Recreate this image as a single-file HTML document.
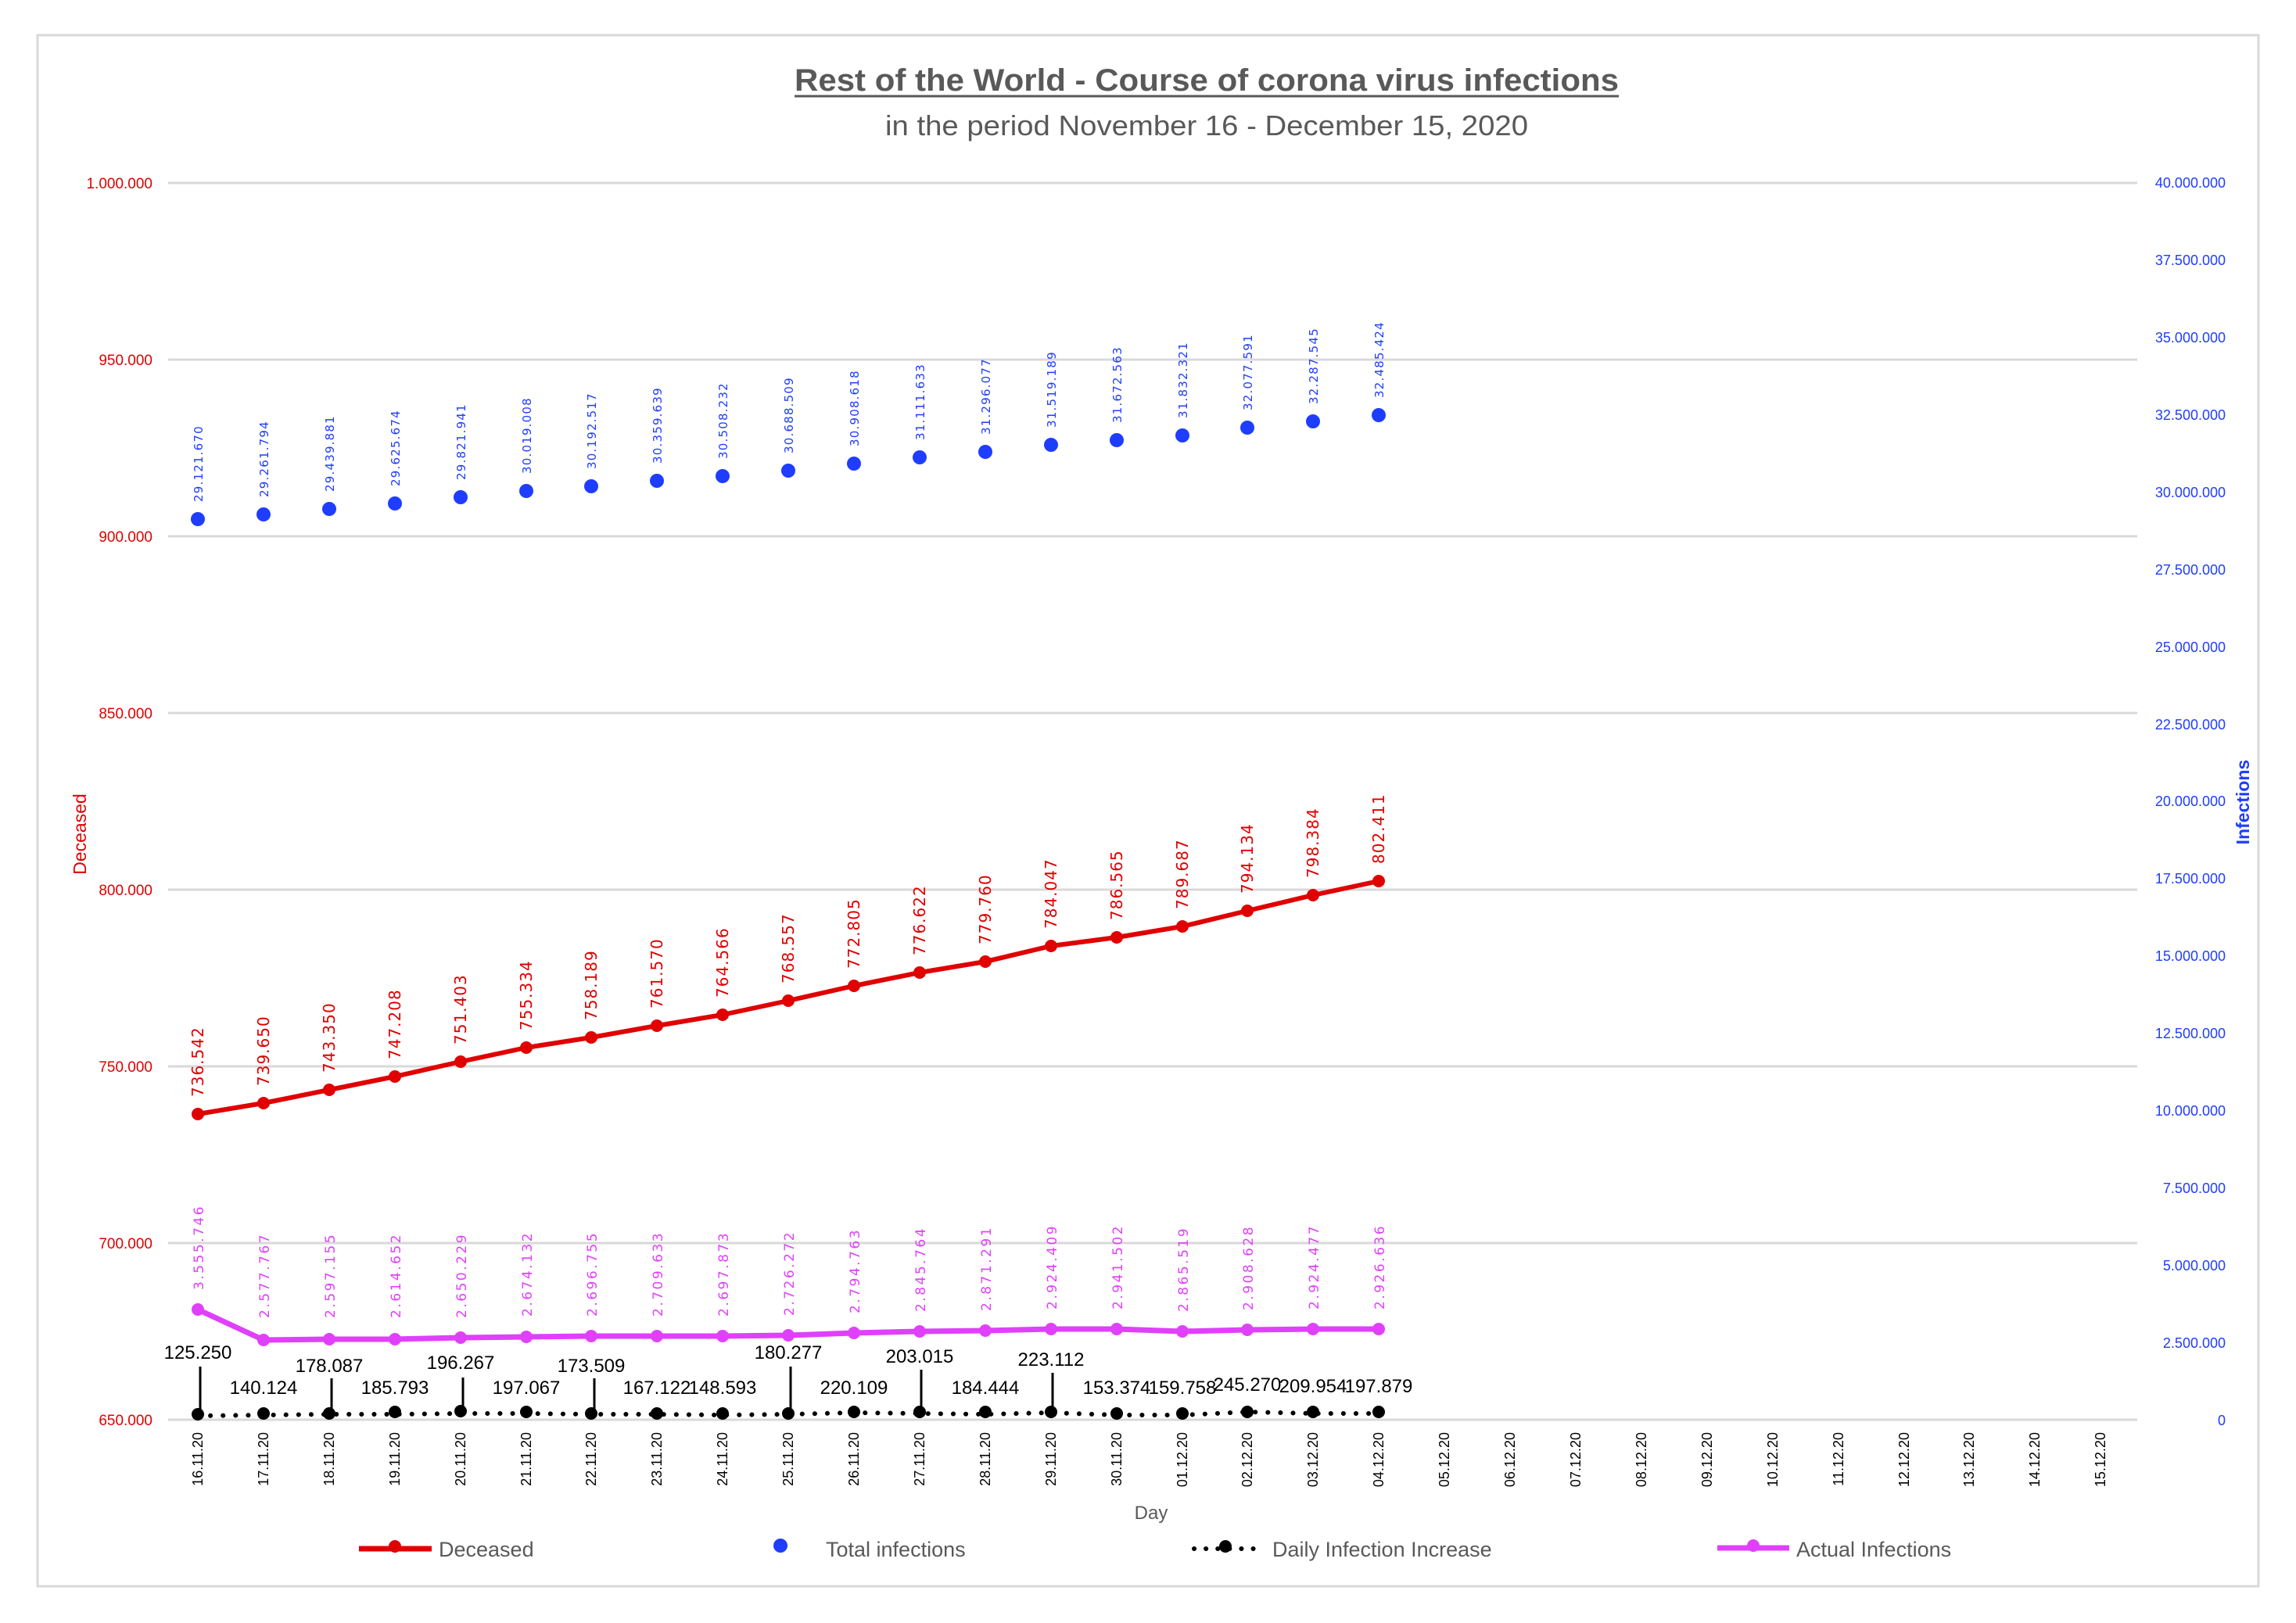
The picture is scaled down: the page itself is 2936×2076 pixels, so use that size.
<!DOCTYPE html>
<html><head><meta charset="utf-8"><style>
html,body{margin:0;padding:0;background:#fff}
svg{display:block}
.la{font-family:"Liberation Sans",sans-serif;font-size:19px;fill:#e00000;text-anchor:end}
.ra{font-family:"Liberation Sans",sans-serif;font-size:18px;fill:#1f3dff;text-anchor:end}
.dl{font-family:"DejaVu Sans",sans-serif;font-size:20px;fill:#e00000;letter-spacing:1px}
.il{font-family:"DejaVu Sans",sans-serif;font-size:15px;fill:#1f3dff;letter-spacing:1.2px}
.al{font-family:"DejaVu Sans",sans-serif;font-size:17px;fill:#e040fb;letter-spacing:2.5px}
.dt{font-family:"Liberation Sans",sans-serif;font-size:18px;fill:#000;text-anchor:end}
.bl{font-family:"Liberation Sans",sans-serif;font-size:24px;fill:#000;text-anchor:middle}
.lg{font-family:"Liberation Sans",sans-serif;font-size:27px;fill:#595959}
</style></head><body>
<svg width="2936" height="2076" viewBox="0 0 2936 2076" xmlns="http://www.w3.org/2000/svg">
<rect x="48" y="45" width="2840" height="1984" fill="#fff" stroke="#d9d9d9" stroke-width="3"/>
<text x="1543" y="116" font-family="Liberation Sans,sans-serif" font-weight="bold" font-size="40" fill="#595959" text-anchor="middle" textLength="1054" lengthAdjust="spacingAndGlyphs">Rest of the World - Course of corona virus infections</text>
<line x1="1016" y1="123" x2="2070" y2="123" stroke="#595959" stroke-width="3"/>
<text x="1543" y="173" font-family="Liberation Sans,sans-serif" font-size="36" fill="#595959" text-anchor="middle" textLength="822" lengthAdjust="spacingAndGlyphs">in the period November 16 - December 15, 2020</text>
<g stroke="#d9d9d9" stroke-width="3">
<line x1="215" y1="234" x2="2733" y2="234"/><line x1="215" y1="460" x2="2733" y2="460"/><line x1="215" y1="686" x2="2733" y2="686"/><line x1="215" y1="912" x2="2733" y2="912"/><line x1="215" y1="1138" x2="2733" y2="1138"/><line x1="215" y1="1364" x2="2733" y2="1364"/><line x1="215" y1="1590" x2="2733" y2="1590"/><line x1="215" y1="1816" x2="2733" y2="1816"/>
</g>
<g class="la">
<text x="195" y="241">1.000.000</text><text x="195" y="467">950.000</text><text x="195" y="693">900.000</text><text x="195" y="919">850.000</text><text x="195" y="1145">800.000</text><text x="195" y="1371">750.000</text><text x="195" y="1597">700.000</text><text x="195" y="1823">650.000</text>
</g>
<g class="ra">
<text x="2846" y="240">40.000.000</text><text x="2846" y="339">37.500.000</text><text x="2846" y="438">35.000.000</text><text x="2846" y="537">32.500.000</text><text x="2846" y="636">30.000.000</text><text x="2846" y="735">27.500.000</text><text x="2846" y="834">25.000.000</text><text x="2846" y="933">22.500.000</text><text x="2846" y="1031">20.000.000</text><text x="2846" y="1130">17.500.000</text><text x="2846" y="1229">15.000.000</text><text x="2846" y="1328">12.500.000</text><text x="2846" y="1427">10.000.000</text><text x="2846" y="1526">7.500.000</text><text x="2846" y="1625">5.000.000</text><text x="2846" y="1724">2.500.000</text><text x="2846" y="1823">0</text>
</g>
<text transform="translate(110,1067) rotate(-90)" font-family="Liberation Sans,sans-serif" font-size="23" fill="#e00000" text-anchor="middle">Deceased</text>
<text transform="translate(2876,1026) rotate(-90)" font-family="Liberation Sans,sans-serif" font-size="23" font-weight="bold" fill="#1f3dff" text-anchor="middle">Infections</text>

<polyline fill="none" stroke="#e00000" stroke-width="6" stroke-linejoin="round" points="253,1425 337,1411 421,1394 505,1377 589,1358 673,1340 756,1327 840,1312 924,1298 1008,1280 1092,1261 1176,1244 1260,1230 1344,1210 1428,1199 1512,1185 1595,1165 1679,1145 1763,1127"/>
<g fill="#e00000">
<circle cx="253" cy="1425" r="8"/><circle cx="337" cy="1411" r="8"/><circle cx="421" cy="1394" r="8"/><circle cx="505" cy="1377" r="8"/><circle cx="589" cy="1358" r="8"/><circle cx="673" cy="1340" r="8"/><circle cx="756" cy="1327" r="8"/><circle cx="840" cy="1312" r="8"/><circle cx="924" cy="1298" r="8"/><circle cx="1008" cy="1280" r="8"/><circle cx="1092" cy="1261" r="8"/><circle cx="1176" cy="1244" r="8"/><circle cx="1260" cy="1230" r="8"/><circle cx="1344" cy="1210" r="8"/><circle cx="1428" cy="1199" r="8"/><circle cx="1512" cy="1185" r="8"/><circle cx="1595" cy="1165" r="8"/><circle cx="1679" cy="1145" r="8"/><circle cx="1763" cy="1127" r="8"/>
</g>
<g class="dl">
<text transform="translate(260,1403) rotate(-90)">736.542</text>
<text transform="translate(344,1389) rotate(-90)">739.650</text>
<text transform="translate(428,1372) rotate(-90)">743.350</text>
<text transform="translate(512,1355) rotate(-90)">747.208</text>
<text transform="translate(596,1336) rotate(-90)">751.403</text>
<text transform="translate(680,1318) rotate(-90)">755.334</text>
<text transform="translate(763,1305) rotate(-90)">758.189</text>
<text transform="translate(847,1290) rotate(-90)">761.570</text>
<text transform="translate(931,1276) rotate(-90)">764.566</text>
<text transform="translate(1015,1258) rotate(-90)">768.557</text>
<text transform="translate(1099,1239) rotate(-90)">772.805</text>
<text transform="translate(1183,1222) rotate(-90)">776.622</text>
<text transform="translate(1267,1208) rotate(-90)">779.760</text>
<text transform="translate(1351,1188) rotate(-90)">784.047</text>
<text transform="translate(1435,1177) rotate(-90)">786.565</text>
<text transform="translate(1519,1163) rotate(-90)">789.687</text>
<text transform="translate(1602,1143) rotate(-90)">794.134</text>
<text transform="translate(1686,1123) rotate(-90)">798.384</text>
<text transform="translate(1770,1105) rotate(-90)">802.411</text>
</g>

<g fill="#1f3dff">
<circle cx="253" cy="664" r="9"/><circle cx="337" cy="658" r="9"/><circle cx="421" cy="651" r="9"/><circle cx="505" cy="644" r="9"/><circle cx="589" cy="636" r="9"/><circle cx="673" cy="628" r="9"/><circle cx="756" cy="622" r="9"/><circle cx="840" cy="615" r="9"/><circle cx="924" cy="609" r="9"/><circle cx="1008" cy="602" r="9"/><circle cx="1092" cy="593" r="9"/><circle cx="1176" cy="585" r="9"/><circle cx="1260" cy="578" r="9"/><circle cx="1344" cy="569" r="9"/><circle cx="1428" cy="563" r="9"/><circle cx="1512" cy="557" r="9"/><circle cx="1595" cy="547" r="9"/><circle cx="1679" cy="539" r="9"/><circle cx="1763" cy="531" r="9"/>
</g>
<g class="il">
<text transform="translate(259,642) rotate(-90)">29.121.670</text>
<text transform="translate(343,636) rotate(-90)">29.261.794</text>
<text transform="translate(427,629) rotate(-90)">29.439.881</text>
<text transform="translate(511,622) rotate(-90)">29.625.674</text>
<text transform="translate(595,614) rotate(-90)">29.821.941</text>
<text transform="translate(679,606) rotate(-90)">30.019.008</text>
<text transform="translate(762,600) rotate(-90)">30.192.517</text>
<text transform="translate(846,593) rotate(-90)">30.359.639</text>
<text transform="translate(930,587) rotate(-90)">30.508.232</text>
<text transform="translate(1014,580) rotate(-90)">30.688.509</text>
<text transform="translate(1098,571) rotate(-90)">30.908.618</text>
<text transform="translate(1182,563) rotate(-90)">31.111.633</text>
<text transform="translate(1266,556) rotate(-90)">31.296.077</text>
<text transform="translate(1350,547) rotate(-90)">31.519.189</text>
<text transform="translate(1434,541) rotate(-90)">31.672.563</text>
<text transform="translate(1518,535) rotate(-90)">31.832.321</text>
<text transform="translate(1601,525) rotate(-90)">32.077.591</text>
<text transform="translate(1685,517) rotate(-90)">32.287.545</text>
<text transform="translate(1769,509) rotate(-90)">32.485.424</text>
</g>

<polyline fill="none" stroke="#e040fb" stroke-width="7" stroke-linejoin="round" points="253,1675 337,1714 421,1713 505,1713 589,1711 673,1710 756,1709 840,1709 924,1709 1008,1708 1092,1705 1176,1703 1260,1702 1344,1700 1428,1700 1512,1703 1595,1701 1679,1700 1763,1700"/>
<g fill="#e040fb">
<circle cx="253" cy="1675" r="8"/><circle cx="337" cy="1714" r="8"/><circle cx="421" cy="1713" r="8"/><circle cx="505" cy="1713" r="8"/><circle cx="589" cy="1711" r="8"/><circle cx="673" cy="1710" r="8"/><circle cx="756" cy="1709" r="8"/><circle cx="840" cy="1709" r="8"/><circle cx="924" cy="1709" r="8"/><circle cx="1008" cy="1708" r="8"/><circle cx="1092" cy="1705" r="8"/><circle cx="1176" cy="1703" r="8"/><circle cx="1260" cy="1702" r="8"/><circle cx="1344" cy="1700" r="8"/><circle cx="1428" cy="1700" r="8"/><circle cx="1512" cy="1703" r="8"/><circle cx="1595" cy="1701" r="8"/><circle cx="1679" cy="1700" r="8"/><circle cx="1763" cy="1700" r="8"/>
</g>
<g class="al">
<text transform="translate(260,1650) rotate(-90)">3.555.746</text>
<text transform="translate(344,1686) rotate(-90)">2.577.767</text>
<text transform="translate(428,1686) rotate(-90)">2.597.155</text>
<text transform="translate(512,1686) rotate(-90)">2.614.652</text>
<text transform="translate(596,1686) rotate(-90)">2.650.229</text>
<text transform="translate(680,1684) rotate(-90)">2.674.132</text>
<text transform="translate(763,1684) rotate(-90)">2.696.755</text>
<text transform="translate(847,1684) rotate(-90)">2.709.633</text>
<text transform="translate(931,1684) rotate(-90)">2.697.873</text>
<text transform="translate(1015,1683) rotate(-90)">2.726.272</text>
<text transform="translate(1099,1680) rotate(-90)">2.794.763</text>
<text transform="translate(1183,1678) rotate(-90)">2.845.764</text>
<text transform="translate(1267,1677) rotate(-90)">2.871.291</text>
<text transform="translate(1351,1675) rotate(-90)">2.924.409</text>
<text transform="translate(1435,1675) rotate(-90)">2.941.502</text>
<text transform="translate(1519,1678) rotate(-90)">2.865.519</text>
<text transform="translate(1602,1676) rotate(-90)">2.908.628</text>
<text transform="translate(1686,1675) rotate(-90)">2.924.477</text>
<text transform="translate(1770,1675) rotate(-90)">2.926.636</text>
</g>

<polyline fill="none" stroke="#000" stroke-width="6" stroke-dasharray="0.1 16" stroke-linecap="round" points="253,1811 337,1810 421,1809 505,1809 589,1808 673,1808 756,1809 840,1809 924,1810 1008,1809 1092,1807 1176,1808 1260,1809 1344,1807 1428,1810 1512,1810 1595,1806 1679,1808 1763,1808"/>
<g fill="#000">
<circle cx="253" cy="1809" r="8"/><circle cx="337" cy="1808" r="8"/><circle cx="421" cy="1808" r="8"/><circle cx="505" cy="1806" r="8"/><circle cx="589" cy="1805" r="8"/><circle cx="673" cy="1806" r="8"/><circle cx="756" cy="1808" r="8"/><circle cx="840" cy="1808" r="8"/><circle cx="924" cy="1808" r="8"/><circle cx="1008" cy="1808" r="8"/><circle cx="1092" cy="1806" r="8"/><circle cx="1176" cy="1806" r="8"/><circle cx="1260" cy="1806" r="8"/><circle cx="1344" cy="1806" r="8"/><circle cx="1428" cy="1808" r="8"/><circle cx="1512" cy="1808" r="8"/><circle cx="1595" cy="1806" r="8"/><circle cx="1679" cy="1806" r="8"/><circle cx="1763" cy="1806" r="8"/>
</g>
<g stroke="#000" stroke-width="3">
<line x1="256" y1="1748" x2="256" y2="1806"/><line x1="424" y1="1763" x2="424" y2="1806"/><line x1="592" y1="1762" x2="592" y2="1804"/><line x1="760" y1="1763" x2="760" y2="1806"/><line x1="1011" y1="1748" x2="1011" y2="1806"/><line x1="1178" y1="1752" x2="1178" y2="1804"/><line x1="1346" y1="1756" x2="1346" y2="1804"/>
</g>
<g class="bl">
<text x="253" y="1738">125.250</text>
<text x="337" y="1783">140.124</text>
<text x="421" y="1755">178.087</text>
<text x="505" y="1783">185.793</text>
<text x="589" y="1751">196.267</text>
<text x="673" y="1783">197.067</text>
<text x="756" y="1755">173.509</text>
<text x="840" y="1783">167.122</text>
<text x="924" y="1783">148.593</text>
<text x="1008" y="1738">180.277</text>
<text x="1092" y="1783">220.109</text>
<text x="1176" y="1743">203.015</text>
<text x="1260" y="1783">184.444</text>
<text x="1344" y="1747">223.112</text>
<text x="1428" y="1783">153.374</text>
<text x="1512" y="1783">159.758</text>
<text x="1595" y="1779">245.270</text>
<text x="1679" y="1781">209.954</text>
<text x="1763" y="1781">197.879</text>
</g>

<g class="dt">
<text transform="translate(259,1832) rotate(-90)">16.11.20</text>
<text transform="translate(343,1832) rotate(-90)">17.11.20</text>
<text transform="translate(427,1832) rotate(-90)">18.11.20</text>
<text transform="translate(511,1832) rotate(-90)">19.11.20</text>
<text transform="translate(595,1832) rotate(-90)">20.11.20</text>
<text transform="translate(679,1832) rotate(-90)">21.11.20</text>
<text transform="translate(762,1832) rotate(-90)">22.11.20</text>
<text transform="translate(846,1832) rotate(-90)">23.11.20</text>
<text transform="translate(930,1832) rotate(-90)">24.11.20</text>
<text transform="translate(1014,1832) rotate(-90)">25.11.20</text>
<text transform="translate(1098,1832) rotate(-90)">26.11.20</text>
<text transform="translate(1182,1832) rotate(-90)">27.11.20</text>
<text transform="translate(1266,1832) rotate(-90)">28.11.20</text>
<text transform="translate(1350,1832) rotate(-90)">29.11.20</text>
<text transform="translate(1434,1832) rotate(-90)">30.11.20</text>
<text transform="translate(1518,1832) rotate(-90)">01.12.20</text>
<text transform="translate(1601,1832) rotate(-90)">02.12.20</text>
<text transform="translate(1685,1832) rotate(-90)">03.12.20</text>
<text transform="translate(1769,1832) rotate(-90)">04.12.20</text>
<text transform="translate(1853,1832) rotate(-90)">05.12.20</text>
<text transform="translate(1937,1832) rotate(-90)">06.12.20</text>
<text transform="translate(2021,1832) rotate(-90)">07.12.20</text>
<text transform="translate(2105,1832) rotate(-90)">08.12.20</text>
<text transform="translate(2189,1832) rotate(-90)">09.12.20</text>
<text transform="translate(2273,1832) rotate(-90)">10.12.20</text>
<text transform="translate(2357,1832) rotate(-90)">11.12.20</text>
<text transform="translate(2441,1832) rotate(-90)">12.12.20</text>
<text transform="translate(2524,1832) rotate(-90)">13.12.20</text>
<text transform="translate(2608,1832) rotate(-90)">14.12.20</text>
<text transform="translate(2692,1832) rotate(-90)">15.12.20</text>
</g>
<text x="1472" y="1943" font-family="Liberation Sans,sans-serif" font-size="24" fill="#595959" text-anchor="middle">Day</text>

<line x1="459" y1="1981" x2="552" y2="1981" stroke="#e00000" stroke-width="7"/>
<circle cx="505" cy="1978" r="8" fill="#e00000"/>
<text x="561" y="1991" class="lg">Deceased</text>
<circle cx="998" cy="1977" r="9" fill="#1f3dff"/>
<text x="1056" y="1991" class="lg">Total infections</text>
<line x1="1527" y1="1981" x2="1610" y2="1981" stroke="#000" stroke-width="6" stroke-dasharray="0.1 15" stroke-linecap="round"/>
<circle cx="1567" cy="1978" r="8" fill="#000"/>
<text x="1627" y="1991" class="lg">Daily Infection Increase</text>
<line x1="2196" y1="1980" x2="2288" y2="1980" stroke="#e040fb" stroke-width="7"/>
<circle cx="2242" cy="1977" r="8" fill="#e040fb"/>
<text x="2297" y="1991" class="lg">Actual Infections</text>
</svg>
</body></html>
